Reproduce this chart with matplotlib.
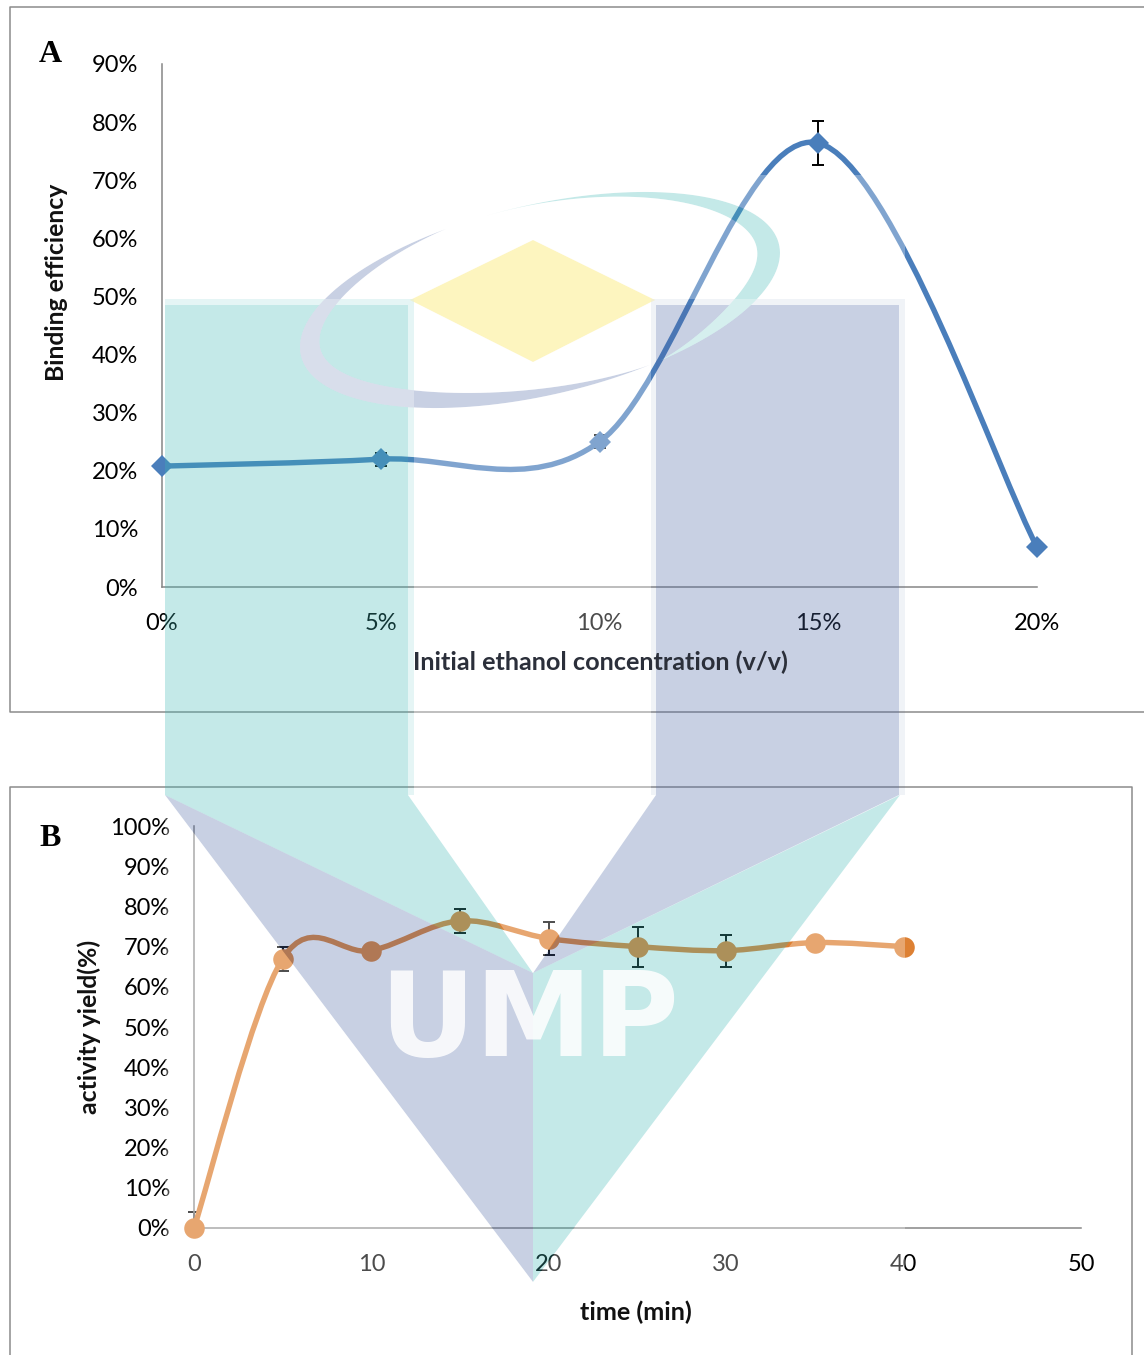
import matplotlib
matplotlib.use("Agg")
import matplotlib.pyplot as plt
import numpy as np
from matplotlib.patches import PathPatch, Polygon
from matplotlib.path import Path
from matplotlib.transforms import Affine2D

# -------------------------
# Data
# -------------------------

a_labels = ["0%", "5%", "10%", "15%", "20%"]
a_values = [0.208, 0.220, 0.250, 0.764, 0.069]
a_errors = [0.0, 0.011, 0.011, 0.038, 0.0]
a_yticks = [0.0, 0.1, 0.2, 0.3, 0.4, 0.5, 0.6, 0.7, 0.8, 0.9]

b_times = [0, 5, 10, 15, 20, 25, 30, 35, 40]
b_values = [0.0, 0.67, 0.69, 0.764, 0.72, 0.70, 0.69, 0.71, 0.70]
b_err_low = [0.0, 0.03, 0.01, 0.03, 0.04, 0.05, 0.04, 0.0, 0.0]
b_err_high = [0.04, 0.03, 0.01, 0.03, 0.04, 0.05, 0.04, 0.0, 0.0]
b_xticks = [0, 10, 20, 30, 40, 50]
b_yticks = [0.0, 0.1, 0.2, 0.3, 0.4, 0.5, 0.6, 0.7, 0.8, 0.9, 1.0]

W, H = 1144, 1355
FONT = "Lato"
GREY = "#868686"
BLUE = "#4A7EBB"
ORANGE = "#DD8033"


def add_axes_px(left, right, top, bottom):
    ax = fig.add_axes([left / W, 1 - bottom / H, (right - left) / W, (bottom - top) / H])
    ax.patch.set_alpha(0)
    ax.spines[["top", "right"]].set_visible(False)
    ax.spines[["left", "bottom"]].set_color(GREY)
    ax.spines[["left", "bottom"]].set_linewidth(1.1)
    ax.tick_params(length=0, labelsize=17, labelcolor="black")
    ax.tick_params(axis="x", pad=18.5)
    ax.tick_params(axis="y", pad=17.3)
    return ax


def smooth_line(ax, x, y, color):
    # Excel style smoothed line: one bezier segment between neighbouring points
    x = np.asarray(x, dtype=float)
    y = np.asarray(y, dtype=float)
    pts = np.column_stack([x, y])
    prev_pts = np.vstack([pts[0], pts[:-1]])
    next_pts = np.vstack([pts[1:], pts[-1]])
    tangents = (next_pts - prev_pts) / 6
    verts = [pts[0]]
    codes = [Path.MOVETO]
    for i in range(len(pts) - 1):
        verts += [pts[i] + tangents[i], pts[i + 1] - tangents[i + 1], pts[i + 1]]
        codes += [Path.CURVE4] * 3
    ax.add_patch(PathPatch(Path(verts, codes), fc="none", ec=color, lw=3.9,
                           capstyle="round", clip_on=False, zorder=3))


fig = plt.figure(figsize=(W / 100, H / 100), dpi=100, facecolor="white")
px = Affine2D().scale(1 / W, -1 / H).translate(0, 1) + fig.transFigure

# -------------------------
# Panel frames
# -------------------------

for corners in ([(1150, 7), (9.5, 7), (9.5, 712), (1150, 712)],
                [(1132, 1360), (1132, 787), (10, 787), (10, 1360)]):
    fig.add_artist(plt.Line2D(*zip(*corners), transform=px, color="#8C8C8C", lw=1.1))

# -------------------------
# Panel A
# -------------------------

ax_a = add_axes_px(162, 1037, 64, 587)
a_pos = np.arange(len(a_labels))
ax_a.errorbar(a_pos, a_values, yerr=a_errors, fmt="none", ecolor="black",
              elinewidth=1.4, capsize=4.3, capthick=1.4, clip_on=False, zorder=2)
smooth_line(ax_a, a_pos, a_values, BLUE)
ax_a.plot(a_pos, a_values, ls="none", marker="D", ms=10.8, color=BLUE, mew=0,
          clip_on=False, zorder=4)
ax_a.set_xlim(0, 4)
ax_a.set_ylim(0, 0.9)
ax_a.set_xticks(a_pos, a_labels)
ax_a.set_yticks(a_yticks, [f"{v:.0%}" for v in a_yticks])

# -------------------------
# Panel B
# -------------------------

ax_b = add_axes_px(194, 1081, 826, 1228)
ax_b.errorbar(b_times, b_values, yerr=[b_err_low, b_err_high], fmt="none", ecolor="black",
              elinewidth=1.4, capsize=4.3, capthick=1.4, clip_on=False, zorder=2)
smooth_line(ax_b, b_times, b_values, ORANGE)
ax_b.plot(b_times, b_values, ls="none", marker="o", ms=14.8, color=ORANGE, mew=0,
          clip_on=False, zorder=4)
ax_b.set_xlim(0, 50)
ax_b.set_ylim(0, 1)
ax_b.set_xticks(b_xticks)
ax_b.set_yticks(b_yticks, [f"{v:.0%}" for v in b_yticks])

for ax in (ax_a, ax_b):
    for lab in ax.get_xticklabels() + ax.get_yticklabels():
        lab.set_fontfamily(FONT)

# -------------------------
# Titles and panel letters
# -------------------------

title_style = dict(transform=px, family=FONT, fontweight="bold", fontsize=18.2,
                   ha="center", va="center", color="#111111", zorder=6)
fig.text(600, 662, "Initial ethanol concentration (v/v)", **{**title_style, "color": "#2b2f3a"})
fig.text(636, 1312, "time (min)", **title_style)
title_style["fontsize"] = 17.8
fig.text(57, 282, "Binding efficiency", rotation=90, **title_style)
fig.text(89, 1027, "activity yield(%)", rotation=90, **title_style)

letter_style = dict(transform=px, family="Liberation Serif", fontweight="bold",
                    fontsize=23, ha="center", va="center", color="black")
fig.text(50, 54, "A", **letter_style)
fig.text(50, 838, "B", **letter_style)

# -------------------------
# Watermark, blended over the charts
# -------------------------

WM_ALPHA = 0.3
WM_TEAL = "#3CB7B5"
WM_LAV = "#4B66A5"
WM_YELLOW = "#FADE2D"


def crescent(t_start, t_end, width, skew=1.0):
    s = np.linspace(0, 1, 80)
    t = np.radians(t_start + (t_end - t_start) * s)
    w = width * np.sin(np.pi * s ** skew) ** 1.2
    tilt = np.radians(13.1)
    pts = []
    for a, b, tt in ((245.4 + 0 * w, 95.1 + 0 * w, t), ((245.4 - w)[::-1], (95.1 - w)[::-1], t[::-1])):
        ex, ey = a * np.cos(tt), b * np.sin(tt)
        pts.append(np.column_stack([540 + ex * np.cos(tilt) + ey * np.sin(tilt),
                                    300 - ex * np.sin(tilt) + ey * np.cos(tilt)]))
    return np.vstack(pts)


ring_lav = crescent(68, 252, 22)
ring_teal = crescent(262, 425, 23, skew=1.6)


def signed_area(p):
    return 0.5 * np.sum(p[:, 0] * np.roll(p[:, 1], -1) - np.roll(p[:, 0], -1) * p[:, 1])


def ccw(p, sign=1):
    p = np.asarray(p, dtype=float)
    return p if signed_area(p) * sign > 0 else p[::-1]


def compound(outer, holes):
    parts = [Path(np.vstack([ccw(outer), ccw(outer)[:1]]), closed=True)]
    parts += [Path(np.vstack([ccw(h, -1), ccw(h, -1)[:1]]), closed=True) for h in holes]
    return Path.make_compound_path(*parts)


page = [(0, 0), (W, 0), (W, H), (0, H)]
no_ring = compound(page, [ring_lav, ring_teal])

shapes = [
    ([(165, 305), (408, 305), (408, 795), (533, 973), (165, 795)], WM_TEAL, WM_ALPHA),
    ([(900, 795), (533, 973), (533, 1282)], WM_TEAL, WM_ALPHA),
    ([(656, 305), (899, 305), (899, 795), (533, 973), (656, 795)], WM_LAV, WM_ALPHA),
    ([(165, 795), (533, 973), (533, 1282)], WM_LAV, WM_ALPHA),
    ([(410, 300), (533, 240), (655, 300), (533, 362)], WM_YELLOW, WM_ALPHA),
    # soft edge the logo has along its columns
    ([(165, 299), (414, 299), (414, 795), (408, 795), (408, 305), (165, 305)], WM_TEAL, 0.13),
    ([(651, 795), (651, 299), (905, 299), (905, 795), (899, 795), (899, 305), (656, 305), (656, 795)],
     WM_LAV, 0.08),
]
for verts, color, alpha in shapes:
    patch = Polygon(verts, closed=True, transform=px, fc=color, ec="none",
                    alpha=alpha, zorder=5)
    fig.add_artist(patch)
    patch.set_clip_path(no_ring, px)

fig.add_artist(Polygon(ring_lav, closed=True, transform=px, fc=WM_LAV, ec="none",
                       alpha=WM_ALPHA, zorder=5))
fig.add_artist(Polygon(ring_teal, closed=True, transform=px, fc=WM_TEAL, ec="none",
                       alpha=WM_ALPHA, zorder=5))

# white veil over everything the coloured shapes leave free
veil_box = [(165, 175), (905, 175), (905, 1300), (165, 1300)]
chevron = [(165, 299), (414, 299), (414, 795), (533, 973), (651, 795), (651, 299),
           (905, 299), (905, 795), (533, 1282), (165, 795)]
diamond = [(410, 300), (533, 240), (655, 300), (533, 362)]
veil = PathPatch(compound(veil_box, [chevron, diamond, ring_lav, ring_teal]), transform=px,
                 fc="white", ec="none", alpha=WM_ALPHA, zorder=5)
fig.add_artist(veil)

fig.text(529, 1056, "UMP", transform=px, family="DejaVu Sans", fontweight="bold", fontsize=85,
         color="white", alpha=0.85, ha="center", va="baseline", zorder=6)

plt.savefig("out.png", dpi=100)
plt.close()
